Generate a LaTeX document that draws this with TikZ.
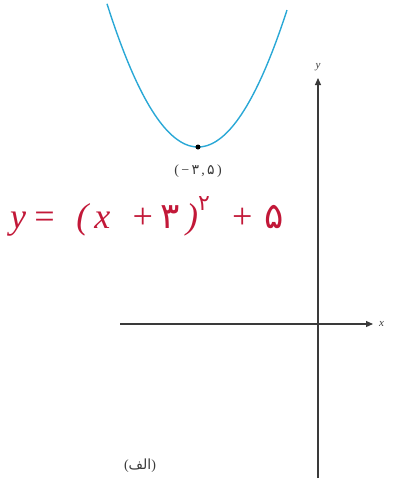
\documentclass[tikz,border=0pt]{standalone}
\usepackage{fontspec}
\setmainfont{Liberation Serif}
\newfontfamily\arabicfont[Script=Arabic]{DejaVu Sans}
\TeXXeTstate=1
\usetikzlibrary{arrows.meta}
\definecolor{curveblue}{HTML}{2AA8D6}
\definecolor{inkred}{HTML}{C21838}
\definecolor{axisgray}{HTML}{3A3A3A}
\tikzset{
  axisline/.style={draw=axisgray, line width=1.1pt, -{Triangle[length=7pt,width=6pt]}},
  curve/.style={draw=curveblue, line width=1.4pt},
  axislabel/.style={font=\itshape\fontsize{11}{11}\selectfont, text=axisgray, inner sep=1pt},
  ptlabel/.style={font=\fontsize{14}{14}\selectfont, text=axisgray, inner sep=1pt},
  handeq/.style={font=\itshape\fontsize{36}{36}\selectfont, text=inkred, inner sep=0pt}
}
\begin{document}
\begin{tikzpicture}[x=1pt,y=-1pt]
\useasboundingbox (0,0) rectangle (394,480);
% axes
\coordinate (xs) at (120,324);
\coordinate (xe) at (373,324);
\coordinate (ys) at (318,478);
\coordinate (ye) at (318,78);
\draw[axisline] (xs) -- (xe);
\draw[axisline] (ys) -- (ye);
\node[axislabel, anchor=west] (xl) at (378,324) {x};
\node[axislabel, anchor=south] (yl) at (318,72) {y};
% parabola
\draw[curve] plot[domain=-91:89, samples=80, smooth] ({198+\x},{147-137*(\x/89)^2});
\node[circle, fill=black, inner sep=0pt, minimum size=5pt] (v) at (198,147) {};
\node[ptlabel] (vl) at (198,171) {(\,−\,{\arabicfont ۳}\,,\,{\arabicfont ۵}\,)};
% handwritten equation
\node[handeq, anchor=west] (eq) at (10,216) {y\,=\;\;(\,x\;\;+\,{\upshape\arabicfont ۳}\,)\raisebox{0.5em}{\fontsize{22}{22}\selectfont\upshape\arabicfont ۲}\;\;+\;{\upshape\arabicfont ۵}};
% panel label
\node[ptlabel] (lab) at (140,466) {(\mbox{\arabicfont\beginR الف\endR})};
\end{tikzpicture}
\end{document}
